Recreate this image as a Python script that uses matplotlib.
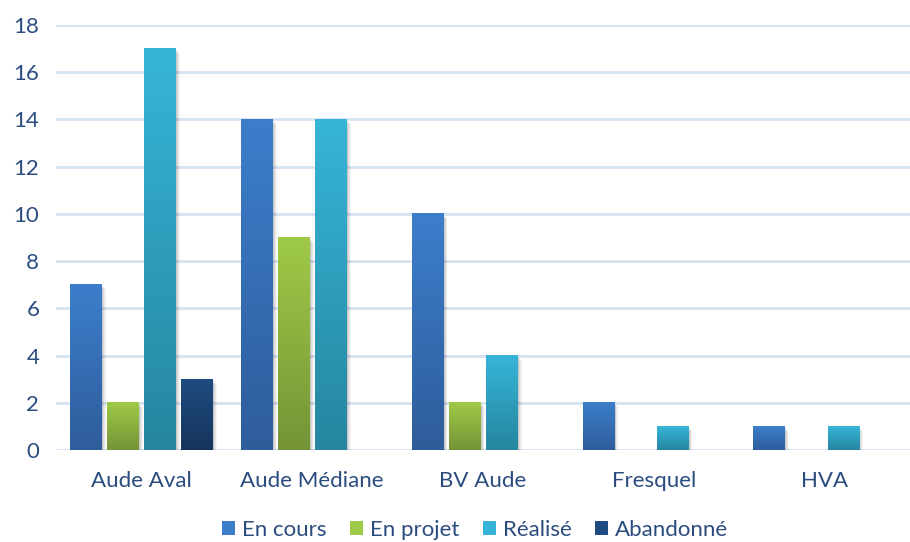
import numpy as np
import matplotlib.pyplot as plt
import matplotlib.transforms as mtransforms
from matplotlib.patches import Rectangle
from matplotlib.colors import LinearSegmentedColormap

# données par bassin
categories = ["Aude Aval", "Aude Médiane", "BV Aude", "Fresquel", "HVA"]
series = ["En cours", "En projet", "Réalisé", "Abandonné"]
en_cours = [7, 14, 10, 2, 1]
en_projet = [2, 9, 2, 0, 0]
realise = [17, 14, 4, 1, 1]
abandonne = [3, 0, 0, 0, 0]
values = [en_cours, en_projet, realise, abandonne]

# couleur haut / bas du dégradé de chaque série
colors = [("#3c7ecb", "#2e5d9b"),
          ("#9fca47", "#749437"),
          ("#36b5d8", "#26869f"),
          ("#1f4c80", "#15345c")]

text_color = "#2b4c7e"
plt.rcParams['font.family'] = ['Lato', 'DejaVu Sans']

fig = plt.figure(figsize=(9.1, 5.42), dpi=100)
ax = fig.add_axes([0.0615, 0.1697, 0.9385, 0.7843])

width = 0.182
step = 0.217
x = np.arange(len(categories))

for k, (vals, (top, bottom)) in enumerate(zip(values, colors)):
    cmap = LinearSegmentedColormap.from_list(series[k], [bottom, top])
    grad = np.linspace(0, 1, 128).reshape(-1, 1)
    for i, v in enumerate(vals):
        if v == 0:
            continue
        x0 = x[i] + (k - 1.5) * step - width / 2
        # ombre portée douce
        for d, a in [(5, 0.04), (4, 0.05), (3, 0.06), (2, 0.08), (1, 0.10)]:
            tr = mtransforms.offset_copy(ax.transData, fig=fig, x=d * 0.9, y=-d * 0.9, units='dots')
            ax.add_patch(Rectangle((x0, 0), width, v, facecolor="black", alpha=a,
                                   edgecolor="none", transform=tr, zorder=2))
        ax.imshow(grad, extent=[x0, x0 + width, 0, v], origin='lower', cmap=cmap,
                  aspect='auto', interpolation='bicubic', zorder=3)

ax.set_xlim(-0.5, len(categories) - 0.5)
ax.set_ylim(0, 18)
ax.set_yticks(range(0, 19, 2))
ax.set_xticks(x)
ax.set_xticklabels(categories)
ax.grid(axis='y', color="#d5e2f2", linewidth=2)
ax.set_axisbelow(True)
for s in ax.spines.values():
    s.set_visible(False)
ax.tick_params(axis='both', length=0, labelsize=16, labelcolor=text_color)
ax.tick_params(axis='x', pad=15)
ax.tick_params(axis='y', pad=12)

handles = [Rectangle((0, 0), 1, 1, facecolor=c[0], edgecolor="none") for c in colors]
fig.legend(handles, series, loc='upper center', bbox_to_anchor=(0.522, 0.077),
           ncol=4, frameon=False, fontsize=16, labelcolor=text_color,
           handlelength=0.6, handleheight=0.6, handletextpad=0.3, columnspacing=1.05)

fig.savefig("out.png", dpi=100)
